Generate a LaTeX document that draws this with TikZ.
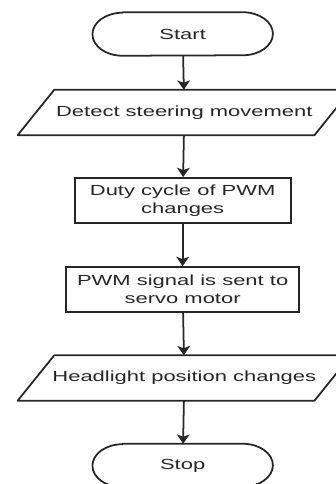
\documentclass[tikz,border=0pt]{standalone}
\usepackage{fontspec}
\setmainfont{Liberation Sans}[FakeStretch=1.5]
\usepackage{tikz}
\usetikzlibrary{arrows.meta}
\definecolor{ink}{HTML}{262626}

\begin{document}
\begin{tikzpicture}[x=1cm,y=1cm,
  txt/.style={text=ink,font=\fontsize{12.5}{15}\selectfont,align=center,inner sep=0pt},
  box/.style={txt,draw=ink,line width=1.5pt,minimum height=1.35cm},
  io/.style={txt,minimum width=9.99cm,minimum height=1.35cm},
  term/.style={txt,minimum width=5.4cm,minimum height=1.29cm},
  outline/.style={ink,line width=1.5pt,line join=round},
  flow/.style={draw=ink,line width=1.5pt,-{Stealth[length=0.28cm,width=0.38cm,inset=0.07cm]}}]
\useasboundingbox (0,0) rectangle (10.08,-14.52);
% steps of the flow, top to bottom
\node[term] (start) at (5.48,-1.02) {Start};
\node[io,xshift=0.05cm] (detect) at (5.48,-3.375) {Detect steering movement};
\node[box,minimum width=6.48cm] (duty) at (5.48,-6.015) {Duty cycle of PWM\\changes};
\node[box,minimum width=6.99cm] (pwm) at (5.48,-8.685) {PWM signal is sent to\\servo motor};
\node[io,xshift=0.05cm] (head) at (5.48,-11.34) {Headlight position changes};
\node[term] (stop) at (5.48,-13.965) {Stop};
% terminal outlines with oval ends
\foreach \t in {start,stop}
  \draw[outline] ([xshift=0.9cm]\t.north west) -- ([xshift=-0.9cm]\t.north east)
    arc[start angle=90,end angle=-90,x radius=0.9cm,y radius=0.645cm]
    -- ([xshift=0.9cm]\t.south west)
    arc[start angle=270,end angle=90,x radius=0.9cm,y radius=0.645cm] -- cycle;
% slanted input/output boxes
\foreach \t in {detect,head}
  \draw[outline] ([xshift=1.1cm]\t.north west) -- (\t.north east)
    -- ([xshift=-1.1cm]\t.south east) -- (\t.south west) -- cycle;
% connectors
\draw[flow] (start) -- (detect);
\draw[flow] (detect) -- (duty);
\draw[flow] (duty) -- (pwm);
\draw[flow] (pwm) -- (head);
\draw[flow] (head) -- (stop);
\end{tikzpicture}
\end{document}
